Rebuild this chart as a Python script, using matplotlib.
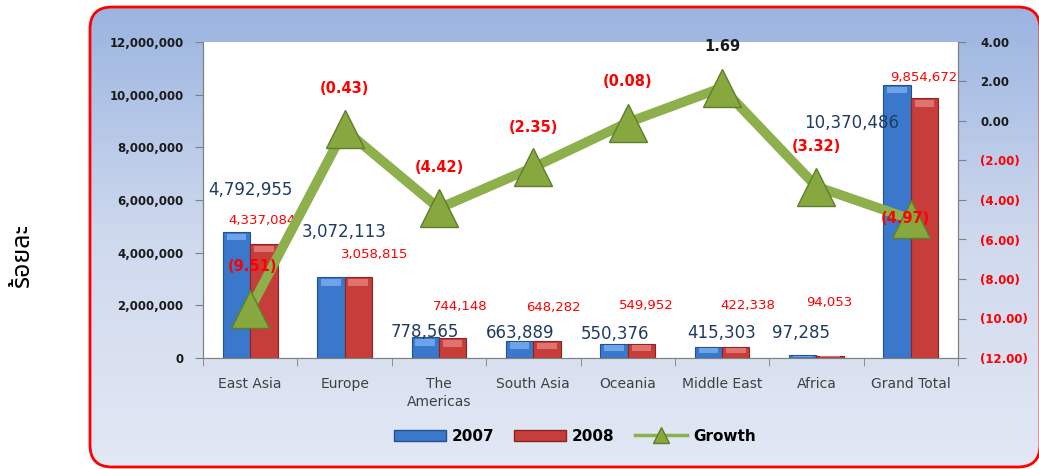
import numpy as np
import matplotlib.pyplot as plt
from matplotlib.patches import FancyBboxPatch, Patch
from matplotlib.lines import Line2D
from matplotlib.colors import LinearSegmentedColormap

# data
regions = ['East Asia', 'Europe', 'The\nAmericas', 'South Asia', 'Oceania',
           'Middle East', 'Africa', 'Grand Total']
val_2007 = [4792955, 3072113, 778565, 663889, 550376, 415303, 97285, 10370486]
val_2008 = [4337084, 3058815, 744148, 648282, 549952, 422338, 94053, 9854672]
growth = [-9.51, -0.43, -4.42, -2.35, -0.08, 1.69, -3.32, -4.97]

left_ticks = [0, 2000000, 4000000, 6000000, 8000000, 10000000, 12000000]
right_ticks = [-12, -10, -8, -6, -4, -2, 0, 2, 4]

# label offsets in pixels (dx, dy) relative to the mark
off_2007 = [(0, 42), (0, 45), (-14, 5), (-13, 8), (-13, 10), (0, 14), (-15, 22), (-59, -38)]
off_2008 = [(12, 23), (30, 23), (21, 32), (20, 33), (19, 38), (26, 41), (13, 53), (13, 21)]
off_growth = [(2, 42), (0, 41), (0, 41), (0, 40), (0, 41), (0, 41), (0, 40), (-5, 1)]

BLUE = '#3a78cc'
RED = '#c63d3a'
GREEN = '#8db04c'

plt.rcParams['font.family'] = ['DejaVu Sans']

fig = plt.figure(figsize=(10.39, 4.69), dpi=100)

# background frame with gradient
bg = fig.add_axes([0, 0, 1, 1], zorder=-5)
bg.set_xlim(0, 1039)
bg.set_ylim(0, 469)
bg.axis('off')
cmap = LinearSegmentedColormap.from_list('bgc', ['#e2e8f4', '#cfd9ee', '#9ab4e0'])
grad = np.linspace(0, 1, 256).reshape(-1, 1)
im = bg.imshow(grad, cmap=cmap, extent=[90, 1040, 2, 462], origin='lower', aspect='auto')
frame = FancyBboxPatch((90, 2), 950, 460, boxstyle='round,pad=0,rounding_size=22',
                       facecolor='none', edgecolor='#ff0000', linewidth=2)
bg.add_patch(frame)
im.set_clip_path(frame)

ax = fig.add_axes([203 / 1039, 111 / 469, 755 / 1039, 316 / 469])
ax.set_facecolor('white')
x = np.arange(len(regions))
w = 0.29
ax.bar(x - w / 2, val_2007, w, color=BLUE, edgecolor='#24508f', linewidth=0.8)
ax.bar(x + w / 2, val_2008, w, color=RED, edgecolor='#8a2523', linewidth=0.8)
# light top strip for a bevelled look
for vals, shift, light in [(val_2007, -w / 2, '#6fa3e8'), (val_2008, w / 2, '#e07270')]:
    for xi, v in zip(x, vals):
        h = min(250000, v * 0.4)
        ax.bar(xi + shift, h, w * 0.72, bottom=v - h * 1.3, color=light, linewidth=0)

ax.set_xlim(-0.5, len(regions) - 0.5)
ax.set_ylim(0, 12000000)
ax.set_yticks(left_ticks)
ax.set_yticklabels([f'{t:,.0f}' for t in left_ticks], fontsize=8.5,
                   fontweight='bold', color='#1a1a1a')
ax.set_xticks(x)
ax.set_xticklabels(regions, fontsize=10, color='#404040', linespacing=1.3)
ax.set_xticks(np.arange(len(regions) + 1) - 0.5, minor=True)
ax.tick_params(axis='x', which='major', length=0, pad=14)
ax.tick_params(axis='x', which='minor', length=6, color='#808080')
ax.tick_params(axis='y', length=6, color='#808080', pad=8)
for s in ['left', 'bottom', 'right']:
    ax.spines[s].set_color('#808080')
ax.spines['top'].set_visible(False)

for xi, v, (dx, dy) in zip(x, val_2007, off_2007):
    ax.annotate(f'{v:,}', (xi, v), xytext=(dx, dy), textcoords='offset pixels',
                ha='center', va='center', fontsize=12, color='#1f3b64')
for xi, v, (dx, dy) in zip(x, val_2008, off_2008):
    ax.annotate(f'{v:,}', (xi, v), xytext=(dx, dy), textcoords='offset pixels',
                ha='center', va='center', fontsize=9.5, color='#ff0000')

ax2 = ax.twinx()
ax2.plot(x, growth, color=GREEN, linewidth=7, solid_capstyle='round', zorder=2)
ax2.plot(x, growth, linestyle='none', marker='^', markersize=27,
         markerfacecolor='#86a83e', markeredgecolor='#5f7d2a', markeredgewidth=1, zorder=3)
ax2.set_ylim(-12, 4)
ax2.set_yticks(right_ticks)
ax2.set_yticklabels([f'({abs(t):.2f})' if t < 0 else f'{t:.2f}' for t in right_ticks],
                    fontsize=8.5, fontweight='bold')
for lbl, t in zip(ax2.get_yticklabels(), right_ticks):
    lbl.set_color('#ff0000' if t < 0 else '#1a1a1a')
ax2.tick_params(axis='y', length=6, color='#808080', pad=10)
for s in ['left', 'bottom', 'right']:
    ax2.spines[s].set_color('#808080')
ax2.spines['top'].set_visible(False)

for xi, g, (dx, dy) in zip(x, growth, off_growth):
    txt = f'({abs(g):.2f})' if g < 0 else f'{g:.2f}'
    ax2.annotate(txt, (xi, g), xytext=(dx, dy), textcoords='offset pixels',
                 ha='center', va='center', fontsize=10.5, fontweight='bold',
                 color='#ff0000' if g < 0 else '#1a1a1a', zorder=5)

handles = [Patch(facecolor=BLUE, edgecolor='#24508f'),
           Patch(facecolor=RED, edgecolor='#8a2523'),
           Line2D([0], [0], color=GREEN, linewidth=2.5, marker='^', markersize=11,
                  markerfacecolor='#86a83e', markeredgecolor='#5f7d2a')]
fig.legend(handles, ['2007', '2008', 'Growth'], loc='center', bbox_to_anchor=(0.553, 0.07),
           ncol=3, frameon=False, prop={'size': 11, 'weight': 'bold'},
           handlelength=3.4, handleheight=0.8, columnspacing=1.3, handletextpad=0.4)

fig.text(0.022, 0.455, 'ร้อยละ', rotation=90, ha='center', va='center',
         fontsize=18, fontweight='bold', family=['Noto Sans Thai', 'Loma', 'Garuda', 'DejaVu Sans'])

fig.savefig('out.png', dpi=100)
